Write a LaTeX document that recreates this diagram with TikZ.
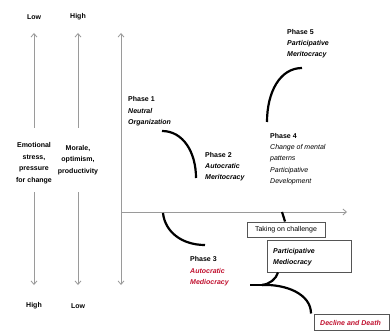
\documentclass[tikz,border=0pt]{standalone}
\usepackage{fontspec}
\setmainfont{Liberation Sans}
\usetikzlibrary{arrows.meta}
\definecolor{axisgrey}{HTML}{9A9A9A}
\definecolor{boxgrey}{HTML}{555555}
\definecolor{alarm}{HTML}{C0102E}
\begin{document}
\begin{tikzpicture}[x=1pt,y=-1pt,
  txt/.style={inner sep=0pt,align=left,anchor=north west,
    font=\fontsize{7}{11.3}\selectfont},
  ctxt/.style={inner sep=0pt,align=center,
    font=\fontsize{7}{11.5}\selectfont\bfseries},
  axisline/.style={draw=axisgrey,line width=0.8pt,
    -{Straight Barb[length=3.5pt,width=6pt]}},
  path/.style={draw=black,line width=2.2pt},
  tagbox/.style={draw=boxgrey,line width=1pt,fill=white,inner sep=0pt}
]
\useasboundingbox (0,0) rectangle (390,331);

% scale labels
\node[ctxt] (lowA)  at (34,17)  {Low};
\node[ctxt] (highA) at (78,17)  {High};
\node[ctxt] (highB) at (34,306) {High};
\node[ctxt] (lowB)  at (78,306) {Low};

\node[ctxt] (stress) at (34,163) {Emotional\\stress,\\pressure\\for change};
\node[ctxt] (morale) at (78,160) {Morale,\\optimism,\\productivity};

% scale arrows
\coordinate (sa1) at (34,128); \coordinate (sa2) at (34,33);
\coordinate (sb1) at (34,192); \coordinate (sb2) at (34,285);
\coordinate (ma1) at (78,128); \coordinate (ma2) at (78,33);
\coordinate (mb1) at (78,192); \coordinate (mb2) at (78,285);
\draw[axisline] (sa1) -- (sa2);
\draw[axisline] (sb1) -- (sb2);
\draw[axisline] (ma1) -- (ma2);
\draw[axisline] (mb1) -- (mb2);

% main axes
\coordinate (origin) at (121,212);
\coordinate (ytop) at (121,33);
\coordinate (ybot) at (121,285);
\coordinate (xend) at (347,212);
\draw[axisline] (origin) -- (ytop);
\draw[axisline] (origin) -- (ybot);
\draw[axisline] (origin) -- (xend);

% phase labels
\node[txt] (p1) at (128,96.5) {\textbf{Phase 1}\\\textbf{\itshape Neutral}\\\textbf{\itshape Organization}};
\node[txt] (p2) at (205,152) {\textbf{Phase 2}\\\textbf{\itshape Autocratic}\\\textbf{\itshape Meritocracy}};
\node[txt] (p3) at (190,256.5) {\textbf{Phase 3}\\\textcolor{alarm}{\bfseries\itshape Autocratic}\\\textcolor{alarm}{\bfseries\itshape Mediocracy}};
\node[txt] (p4) at (270,133) {\textbf{Phase 4}\\\textit{Change of mental}\\\textit{patterns}\\\textit{Participative}\\\textit{Development}};
\node[txt] (p5) at (287,29) {\textbf{Phase 5}\\\textbf{\itshape Participative}\\\textbf{\itshape Meritocracy}};

% development path
\coordinate (c1a) at (162,131); \coordinate (c1b) at (196,178);
\coordinate (c2a) at (163,213); \coordinate (c2b) at (205,245);
\coordinate (c4a) at (267,122); \coordinate (c4b) at (302,68);
\coordinate (fork0) at (250,285); \coordinate (fork) at (262,285);
\draw[path] (c1a) .. controls (183,131) and (196,152) .. (c1b);
\draw[path] (c2a) .. controls (165,232) and (182,245) .. (c2b);
\draw[path] (c4a) .. controls (267,92) and (280,68) .. (c4b);

% outcome boxes
\node[tagbox,minimum width=78pt,minimum height=15pt,
  font=\fontsize{7}{9}\selectfont] (take) at (286,229.5) {Taking on challenge};
\node[tagbox,minimum width=84pt,minimum height=32pt] (pm) at (309,256) {};
\node[txt,font=\fontsize{7}{10.5}\selectfont\bfseries\itshape] (pmt) at (273,248.5) {Participative\\Mediocracy};
\node[tagbox,minimum width=75pt,minimum height=16pt] (dd) at (351.5,322) {};
\node[inner sep=0pt,anchor=west,text=alarm,
  font=\fontsize{7}{9}\selectfont\bfseries\itshape] (ddt) at (320,322.5) {Decline and Death};

% paths around the turning point
\coordinate (up1) at (282,212);
\draw[path] (up1) .. controls (283,215) and (284,218) .. (take.north -| 285,0);
\draw[path] (fork0) -- (fork);
\draw[path] (fork) .. controls (270,284) and (276,279) .. (pm.south -| 278,0);
\draw[path] (fork) .. controls (286,284) and (311,294) .. (dd.north -| 311,0);
\end{tikzpicture}
\end{document}
